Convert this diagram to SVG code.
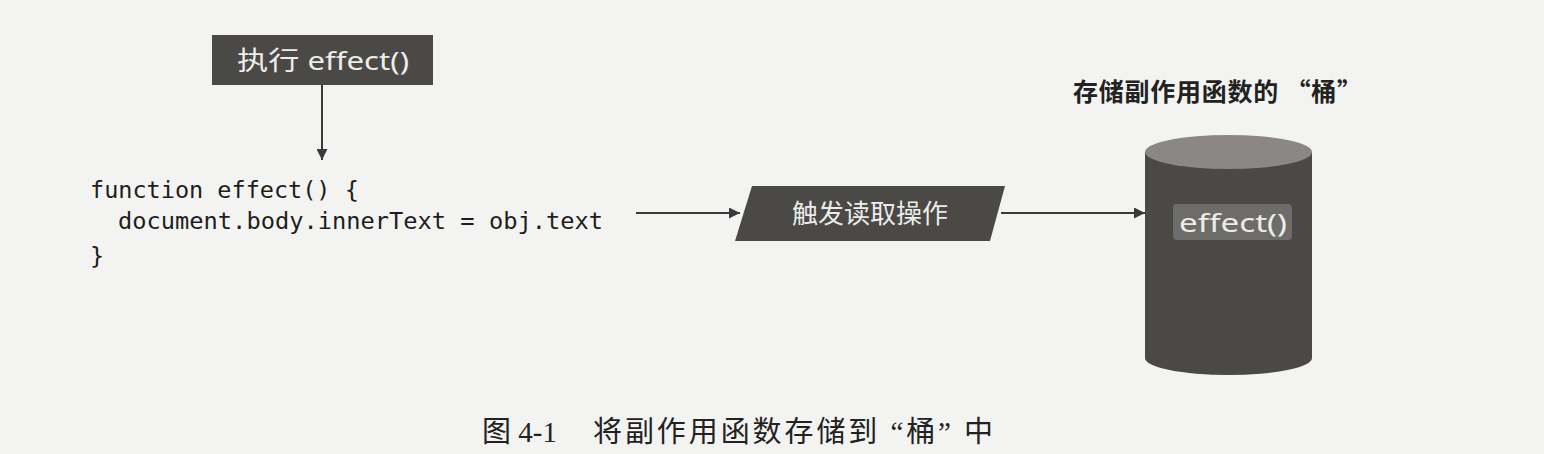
<svg xmlns="http://www.w3.org/2000/svg" width="1544" height="454" viewBox="0 0 1544 454">
<defs>
<marker id="ah" viewBox="0 0 10 10" refX="10" refY="5" markerWidth="11" markerHeight="11" markerUnits="userSpaceOnUse" orient="auto">
<path d="M0,0 L10,5 L0,10 z" fill="#3a3a3a"/>
</marker>
<style>
.dark{fill:#4b4946}
.lbl{font-family:"Noto Sans","Noto Sans CJK SC",sans-serif;fill:#ececea;font-size:26px}
.code{font-family:"DejaVu Sans Mono","Noto Sans CJK SC",monospace;font-size:23.5px;fill:#1e1e1e}
.conn{stroke:#3a3a3a;stroke-width:2;fill:none}
.cap{font-family:"Liberation Serif","Noto Sans CJK SC",serif;font-size:29px;fill:#222}
</style>
</defs>
<rect width="1544" height="454" fill="#f3f3f1"/>
<g id="exec">
<rect class="dark" x="212" y="35" width="221" height="50"/>
<text class="lbl" x="237" y="70" font-size="27" textLength="172" lengthAdjust="spacingAndGlyphs">执行 effect()</text>
</g>
<g id="code">
<text class="code" x="90" y="198">function effect() {</text>
<text class="code" x="118" y="229" textLength="485" lengthAdjust="spacingAndGlyphs">document.body.innerText = obj.text</text>
<text class="code" x="90" y="264">}</text>
</g>
<g id="trigger">
<polygon class="dark" points="752,186 1005,186 990,241 735,241"/>
<text class="lbl" x="870" y="223" text-anchor="middle" font-size="27">触发读取操作</text>
</g>
<g id="bucket">
<text x="1073" y="101" textLength="289" lengthAdjust="spacing" font-family="'Noto Sans CJK SC',sans-serif" font-size="25" font-weight="bold" fill="#222">存储副作用函数的 “桶”</text>
<path class="dark" d="M1145,152 L1145,358 A83.5,17 0 0 0 1312,358 L1312,152 Z"/>
<ellipse cx="1228.5" cy="152" rx="83.5" ry="17" fill="#8a8784"/>
<rect x="1173" y="204" width="119" height="36" rx="4" fill="#6e6c69"/>
<text class="lbl" x="1179" y="232" textLength="108" lengthAdjust="spacingAndGlyphs" font-size="27">effect()</text>
</g>
<g id="connectors">
<line class="conn" x1="322" y1="85" x2="322" y2="160" marker-end="url(#ah)"/>
<line class="conn" x1="636" y1="213" x2="740" y2="213" marker-end="url(#ah)"/>
<line class="conn" x1="1001" y1="213" x2="1145" y2="213" marker-end="url(#ah)"/>
</g>
<g id="caption">
<text class="cap" x="482" y="442">图 4-1</text>
<text class="cap" x="593" y="442" textLength="400" lengthAdjust="spacing">将副作用函数存储到 “桶” 中</text>
</g>
</svg>
